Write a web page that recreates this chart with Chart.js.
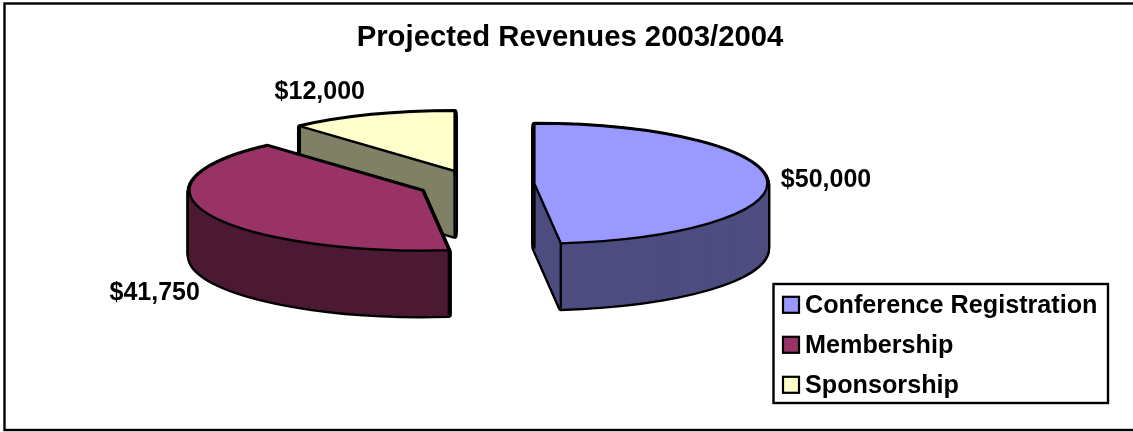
<!DOCTYPE html>
<html><head><meta charset="utf-8">
<style>html,body{margin:0;padding:0;background:#fff;overflow:hidden}canvas{display:block}</style>
<script src="https://cdn.jsdelivr.net/npm/chart.js@4"></script>
</head><body>
<canvas id="c" width="1133" height="432"></canvas>
<script>
const categories = ["Conference Registration", "Membership", "Sponsorship"];
const revenues = [50000, 41750, 12000];
const valueLabels = ["$50,000", "$41,750", "$12,000"];
const faceColors = ["#9999ff", "#993366", "#ffffcc"];
const sideColors = ["#4d4d80", "#4d1a33", "#808066"];
const explode = [60, 57, 56];
const labelNudge = [[59, 0], [-55, 78], [-52, -23]];
const chartTitle = "Projected Revenues 2003/2004";

const FONT = '"Liberation Sans", Arial, sans-serif';
const CX = 474.5, CY = 184.5, RADIUS = 233, TILT = 0.258, DEPTH = 65;

function apex(el, i) {
  const mid = (el.startAngle + el.endAngle) / 2;
  return { x: CX + Math.cos(mid) * explode[i], y: CY + Math.sin(mid) * explode[i] * TILT };
}
function sectorPath(ctx, el, i, dy) {
  const a = apex(el, i), r = el.outerRadius;
  ctx.beginPath();
  ctx.moveTo(a.x, a.y + dy);
  ctx.ellipse(a.x, a.y + dy, r, r * TILT, 0, el.startAngle, el.endAngle);
  ctx.closePath();
}
function rimPoint(el, i, ang) {
  const a = apex(el, i), r = el.outerRadius;
  return { x: a.x + Math.cos(ang) * r, y: a.y + Math.sin(ang) * r * TILT };
}
const pie3d = {
  id: 'pie3d',
  beforeDraw(chart) {
    const ctx = chart.ctx;
    ctx.save();
    ctx.fillStyle = '#fff';
    ctx.fillRect(0, 0, chart.width, chart.height);
    ctx.strokeStyle = '#000';
    ctx.lineWidth = 2.4;
    ctx.strokeRect(4.5, 3.5, 1140, 426.5);
    ctx.fillStyle = '#fff';
    ctx.fillRect(773.5, 284, 334.5, 119);
    ctx.strokeRect(773.5, 284, 334.5, 119);
    ctx.restore();
  },
  afterLayout(chart) {
    const lg = chart.legend, p = lg.options.labels.padding;
    const w = lg.width, h = lg.height;
    lg.left = 783 - p; lg.right = lg.left + w;
    lg.top = 278.5; lg.bottom = lg.top + h;
  },
  beforeDatasetsDraw(chart) {
    const ctx = chart.ctx, arcs = chart.getDatasetMeta(0).data;
    ctx.save();
    ctx.lineJoin = 'round';
    [2, 1, 0].forEach(i => {
      const el = arcs[i], a = apex(el, i);
      ctx.strokeStyle = '#000';
      ctx.lineWidth = 5.6;
      for (let d = DEPTH; d >= 1; d--) { sectorPath(ctx, el, i, d); ctx.stroke(); }
      ctx.fillStyle = sideColors[i];
      ctx.strokeStyle = sideColors[i];
      ctx.lineWidth = 1;
      for (let d = DEPTH; d >= 1; d--) { sectorPath(ctx, el, i, d); ctx.fill(); ctx.stroke(); }
      ctx.strokeStyle = '#000';
      ctx.lineWidth = 2.4;
      const pts = [rimPoint(el, i, el.startAngle), rimPoint(el, i, el.endAngle)];
      const coversFront = el.startAngle < Math.PI / 2 && el.endAngle > Math.PI / 2;
      if (!coversFront) pts.push(a);
      pts.forEach(p => {
        ctx.beginPath(); ctx.moveTo(p.x, p.y); ctx.lineTo(p.x, p.y + DEPTH); ctx.stroke();
      });
      ctx.save();
      ctx.translate(a.x, a.y);
      ctx.scale(1, TILT);
      ctx.translate(-el.x, -el.y);
      el.draw(ctx);
      ctx.restore();
      ctx.lineWidth = 2.4;
      sectorPath(ctx, el, i, 0);
      ctx.stroke();
    });
    ctx.restore();
    return false;
  },
  afterDraw(chart) {
    const ctx = chart.ctx, arcs = chart.getDatasetMeta(0).data;
    ctx.save();
    ctx.fillStyle = '#000';
    ctx.font = 'bold 25px ' + FONT;
    ctx.textAlign = 'center';
    ctx.textBaseline = 'middle';
    arcs.forEach((el, i) => {
      const p = rimPoint(el, i, (el.startAngle + el.endAngle) / 2);
      ctx.fillText(valueLabels[i], p.x + labelNudge[i][0], p.y + labelNudge[i][1]);
    });
    chart.legend.legendHitBoxes.forEach((b, i) => {
      ctx.fillStyle = faceColors[i];
      ctx.strokeStyle = '#000';
      ctx.lineWidth = 2.2;
      ctx.fillRect(783, b.top + 3.5, 16, 16);
      ctx.strokeRect(783, b.top + 3.5, 16, 16);
    });
    ctx.restore();
  }
};
new Chart(document.getElementById('c'), {
  type: 'pie',
  data: {
    labels: categories,
    datasets: [{ data: revenues, backgroundColor: faceColors, borderWidth: 0, radius: RADIUS }]
  },
  options: {
    responsive: false,
    animation: false,
    events: [],
    rotation: 0,
    layout: { padding: { left: 7, right: 0, top: 0, bottom: 0 } },
    plugins: {
      tooltip: { enabled: false },
      title: {
        display: true, text: chartTitle, color: '#000',
        font: { family: FONT, size: 29.3, weight: 'bold' },
        padding: { top: 20, bottom: 10 }
      },
      legend: {
        display: true, position: 'right', align: 'start',
        labels: {
          color: '#000',
          font: { family: FONT, size: 25.2, weight: 'bold' },
          boxWidth: 9.4, boxHeight: 14, padding: 14.8,
          generateLabels: () => categories.map((text, index) => ({
            text, index, fillStyle: 'rgba(0,0,0,0)', strokeStyle: 'rgba(0,0,0,0)', lineWidth: 0, hidden: false
          }))
        }
      }
    }
  },
  plugins: [pie3d]
});
</script>
</body></html>
